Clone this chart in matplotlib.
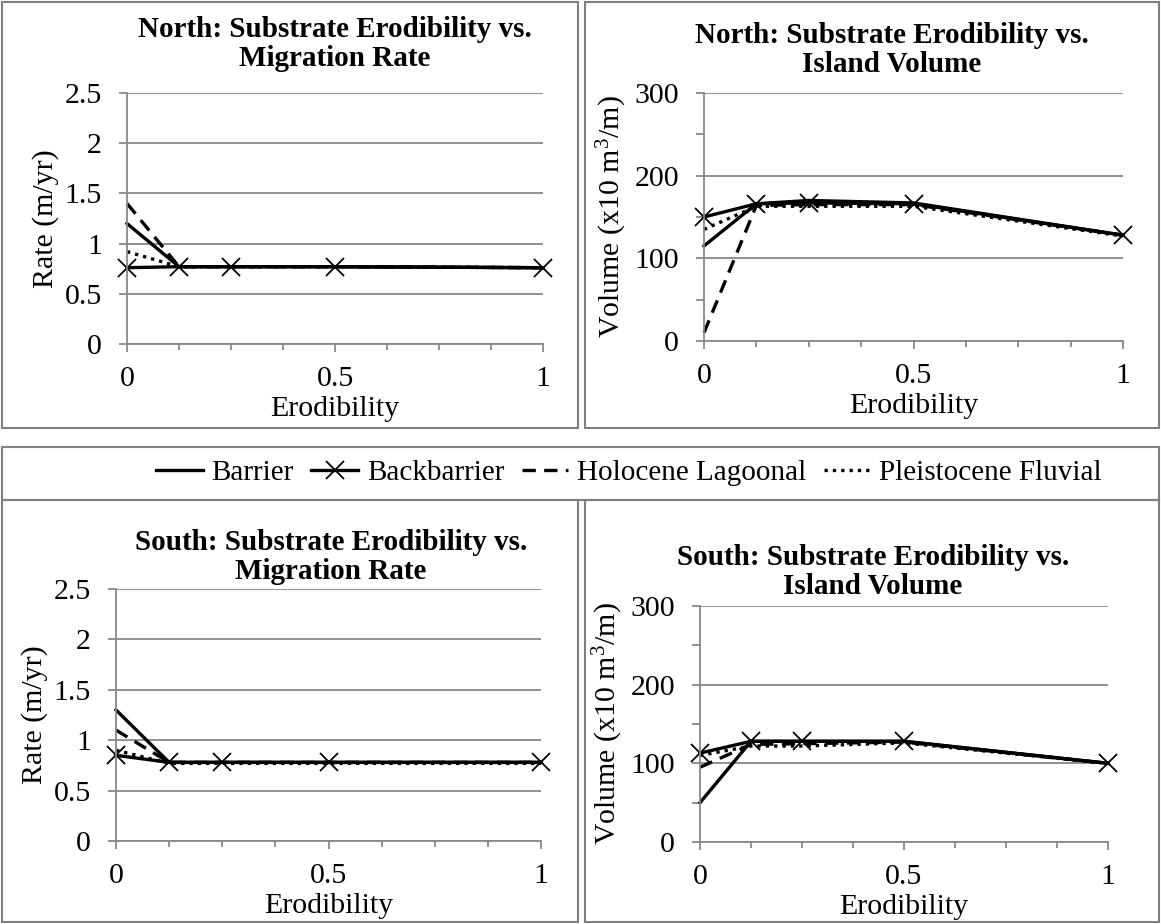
import matplotlib
matplotlib.use("Agg")
import matplotlib.pyplot as plt
from matplotlib.patches import Rectangle
from matplotlib.ticker import MultipleLocator, FormatStrFormatter

# erodibility values
erod = [0, 0.125, 0.25, 0.5, 1]

# North migration rate (m/yr)
n_rate_barrier = [1.2, 0.77, 0.77, 0.77, 0.76]
n_rate_backbarrier = [0.76, 0.77, 0.77, 0.77, 0.76]
n_rate_holocene = [1.4, 0.77, 0.77, 0.77, 0.76]
n_rate_pleisto = [0.92, 0.77, 0.77, 0.77, 0.76]

# North island volume (x10 m3/m)
n_vol_barrier = [115, 166, 170, 167, 128]
n_vol_backbarrier = [150, 166, 167, 166, 128]
n_vol_holocene = [10, 164, 165, 165, 128]
n_vol_pleisto = [135, 163, 163, 163, 127]

# South migration rate (m/yr)
s_rate_barrier = [1.3, 0.78, 0.78, 0.78, 0.78]
s_rate_backbarrier = [0.85, 0.78, 0.78, 0.78, 0.78]
s_rate_holocene = [1.1, 0.78, 0.78, 0.78, 0.78]
s_rate_pleisto = [0.9, 0.77, 0.77, 0.77, 0.77]

# South island volume (x10 m3/m)
s_vol_barrier = [50, 128, 128, 128, 100]
s_vol_backbarrier = [113, 128, 128, 128, 100]
s_vol_holocene = [95, 124, 125, 127, 100]
s_vol_pleisto = [110, 122, 122, 126, 100]

series_names = ["Barrier", "Backbarrier", "Holocene Lagoonal", "Pleistocene Fluvial"]

plt.rcParams['font.family'] = ['Liberation Serif', 'DejaVu Serif']
plt.rcParams['mathtext.fontset'] = 'custom'
plt.rcParams['mathtext.rm'] = 'Liberation Serif'
plt.rcParams['mathtext.default'] = 'regular'
FS = 21.5

W, H = 1161, 924
fig = plt.figure(figsize=(W / 100, H / 100), dpi=100)


def px_axes(l, r, b, t):
    return fig.add_axes([l / W, 1 - b / H, (r - l) / W, (b - t) / H])


def box(x0, y0, x1, y1):
    fig.patches.append(Rectangle((x0 / W, 1 - y1 / H), (x1 - x0) / W, (y1 - y0) / H,
                                 transform=fig.transFigure, fill=False,
                                 edgecolor='#7f7f7f', lw=1.5))


def panel(ax, data, ymax, ystep, yminor, ylabel, title, tx, ty):
    barrier, backbarrier, holocene, pleisto = data
    h1, = ax.plot(erod, barrier, color='black', lw=2.4, clip_on=False)
    h2, = ax.plot(erod, backbarrier, color='black', lw=2.4, marker='x', ms=13, mew=1.3,
                  clip_on=False)
    h3, = ax.plot(erod, holocene, color='black', lw=2.4, ls=(0, (4, 2.5)), clip_on=False)
    h4, = ax.plot(erod, pleisto, color='black', lw=2.4, ls=(0, (1, 1.5)), clip_on=False)
    ax.set_xlim(0, 1)
    ax.set_ylim(0, ymax)
    ax.set_xticks([0, 0.5, 1])
    ax.set_xticklabels(['0', '0.5', '1'])
    ax.xaxis.set_minor_locator(MultipleLocator(0.125))
    ax.yaxis.set_major_locator(MultipleLocator(ystep))
    ax.yaxis.set_major_formatter(FormatStrFormatter('%g'))
    if yminor:
        ax.yaxis.set_minor_locator(MultipleLocator(yminor))
    ax.grid(axis='y', which='major', color='#888888', lw=1.3)
    ax.set_axisbelow(True)
    for s in ['top', 'right']:
        ax.spines[s].set_visible(False)
    for s in ['left', 'bottom']:
        ax.spines[s].set_color('#888888')
        ax.spines[s].set_linewidth(1.3)
    ax.tick_params(which='both', direction='out', color='#888888', width=1.3,
                   labelsize=FS)
    ax.tick_params(axis='x', which='major', length=6, pad=10)
    ax.tick_params(axis='x', which='minor', length=4)
    ax.tick_params(axis='y', which='major', length=6, pad=12)
    ax.tick_params(axis='y', which='minor', length=6)
    ax.set_xlabel('Erodibility', fontsize=FS, labelpad=3)
    ax.set_ylabel(ylabel, fontsize=FS, labelpad=4)
    fig.text(tx / W, 1 - ty / H, title, fontsize=FS - 0.5, fontweight='bold',
             ha='center', va='center', linespacing=1.1)
    return [h1, h2, h3, h4]


ax1 = px_axes(127, 543, 344, 93)
handles = panel(ax1, (n_rate_barrier, n_rate_backbarrier, n_rate_holocene, n_rate_pleisto),
                2.5, 0.5, None, 'Rate (m/yr)',
                'North: Substrate Erodibility vs.\nMigration Rate', 335, 44)

ax2 = px_axes(704, 1123, 341, 93)
panel(ax2, (n_vol_barrier, n_vol_backbarrier, n_vol_holocene, n_vol_pleisto),
      300, 100, 50, 'Volume (x10 m$^3$/m)',
      'North: Substrate Erodibility vs.\nIsland Volume', 892, 50)

ax3 = px_axes(116, 541, 841, 589)
panel(ax3, (s_rate_barrier, s_rate_backbarrier, s_rate_holocene, s_rate_pleisto),
      2.5, 0.5, None, 'Rate (m/yr)',
      'South: Substrate Erodibility vs.\nMigration Rate', 331, 557)

ax4 = px_axes(700, 1108, 842, 606)
panel(ax4, (s_vol_barrier, s_vol_backbarrier, s_vol_holocene, s_vol_pleisto),
      300, 100, 50, 'Volume (x10 m$^3$/m)',
      'South: Substrate Erodibility vs.\nIsland Volume', 873, 572)

# panel borders
box(2, 2, 578, 428)
box(585, 2, 1159, 428)
box(2, 447, 1159, 500)
box(2, 500, 578, 922)
box(585, 500, 1159, 922)

fig.legend(handles, series_names, loc='center', bbox_to_anchor=(629 / W, 1 - 473 / H),
           ncol=4, frameon=False, fontsize=FS - 0.5, handlelength=1.6, columnspacing=0.6,
           handletextpad=0.3)

fig.savefig('out.png', dpi=100)
